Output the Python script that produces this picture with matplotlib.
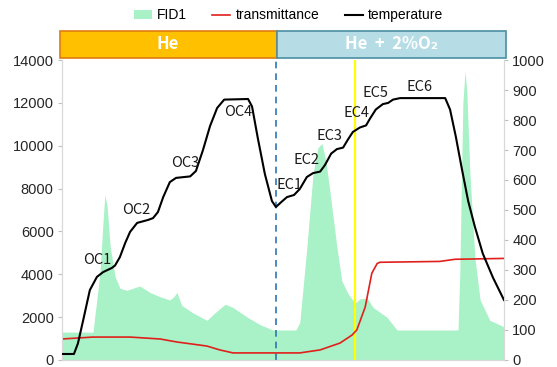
import matplotlib
matplotlib.use('Agg')
import matplotlib.pyplot as plt
from matplotlib.patches import Rectangle
from matplotlib.lines import Line2D
from matplotlib.patches import Patch

# eje x arbitrario (0-100)
fid_x = [0, 7.0, 7.7, 8.6, 9.3, 9.7, 10.2, 10.9, 12.0, 13.1, 14.7, 16.1, 17.6, 18.8, 19.9,
         22.2, 24.4, 25.3, 26.0, 27.1, 29.6, 32.8, 34.6, 36.9, 38.7, 41.9, 44.8, 47.7,
         52.9, 53.8, 55.4, 56.8, 57.9, 58.8, 59.7, 60.6, 62.2, 63.3, 64.7, 66.3, 67.4,
         69.0, 70.4, 73.5, 75.8, 89.6, 90.0, 90.7, 91.2, 91.6, 92.3, 93.4, 94.6, 96.8, 100]
fid_y = [1300, 1300, 2500, 4100, 6500, 7700, 7200, 5300, 3900, 3350, 3250, 3350, 3450, 3300, 3150,
         2950, 2800, 2950, 3150, 2550, 2200, 1850, 2200, 2600, 2450, 2000, 1650, 1400,
         1400, 1750, 5250, 8700, 9900, 10100, 9300, 7900, 5250, 3700, 3100, 2650, 2850,
         2900, 2450, 2000, 1400, 1400, 4000, 12000, 13500, 12500, 8700, 4800, 2800, 1850, 1550]

trans_x = [0, 7.0, 15.4, 22.2, 26.0, 29.6, 32.8, 35.7, 38.7, 44.8, 53.8, 58.4, 62.9, 65.6,
           66.7, 68.6, 70.1, 71.3, 71.9, 85.5, 88.9, 100]
trans_y = [980, 1070, 1070, 980, 840, 740, 650, 470, 330, 330, 330, 470, 790, 1160,
           1400, 2470, 4050, 4500, 4560, 4600, 4700, 4740]

temp_x = [0, 2.7, 3.6, 4.8, 6.3, 7.9, 9.3, 11.3, 12.0, 13.1, 14.3, 15.4, 17.0, 19.5, 20.6,
          21.7, 22.9, 24.4, 25.8, 29.0, 30.3, 31.9, 33.5, 35.1, 36.7, 42.1, 43.0, 44.3,
          45.9, 47.5, 48.4, 49.5, 50.9, 52.5, 53.8, 55.4, 56.8, 58.4, 59.5, 60.9, 62.2,
          63.6, 64.7, 65.8, 67.4, 68.8, 69.7, 71.0, 72.6, 73.8, 74.9, 76.5, 86.7, 87.8,
          89.1, 90.5, 91.9, 93.4, 95.2, 97.5, 100]
temp_y = [20, 20, 55, 133, 233, 277, 293, 307, 315, 343, 390, 427, 457, 467, 473,
          493, 543, 593, 607, 612, 630, 700, 780, 840, 868, 870, 845, 740,
          620, 530, 510, 525, 543, 550, 570, 610, 623, 628, 650, 688, 703,
          708, 735, 760, 775, 782, 805, 835, 853, 857, 868, 873, 873, 835,
          745, 635, 530, 445, 355, 275, 200]

# etiquetas de etapas (x, temperatura)
etapas = ['OC1', 'OC2', 'OC3', 'OC4', 'EC1', 'EC2', 'EC3', 'EC4', 'EC5', 'EC6']
etapas_x = [7.9, 16.7, 27.8, 39.8, 51.4, 55.4, 60.6, 66.7, 71.0, 81.0]
etapas_t = [333, 500, 657, 827, 583, 667, 747, 823, 890, 910]

cambio_gas = 48.4
marca_amarilla = 66.3

plt.rcParams['font.family'] = ['Liberation Sans', 'DejaVu Sans']

fig = plt.figure(figsize=(5.57, 3.67), dpi=100)
ax = fig.add_axes([0.1113, 0.0191, 0.7935, 0.8174])
ax2 = ax.twinx()

ax.fill_between(fid_x, fid_y, 0, color='#a9f1c6', lw=0, zorder=1)
ax.plot(trans_x, trans_y, color='#e0201c', lw=1.2, zorder=3)
ax2.plot(temp_x, temp_y, color='black', lw=1.5, zorder=4)

ax.axvline(cambio_gas, color='#2e75b6', ls=(0, (4, 3)), lw=1.2, zorder=2)
ax.axvline(marca_amarilla, color='#ffff00', lw=1.6, zorder=2)

for nombre, x, t in zip(etapas, etapas_x, etapas_t):
    ax2.text(x, t, nombre, ha='center', va='center', fontsize=10.5,
             family=['Noto Sans CJK KR', 'DejaVu Sans'], color='#1a1a1a', zorder=5)

ax.set_xlim(0, 100)
ax.set_ylim(0, 14000)
ax2.set_ylim(0, 1000)
ax.set_yticks(range(0, 14001, 2000))
ax2.set_yticks(range(0, 1001, 100))
ax.set_xticks([])

for a in (ax, ax2):
    for s in a.spines.values():
        s.set_color('#d9d9d9')
    a.spines['top'].set_visible(False)
    a.tick_params(axis='y', length=3, color='#bfbfbf', labelsize=10.5, labelcolor='#262626', pad=3)

# cajas de encabezado
ax.add_patch(Rectangle((-0.005, 1.007), 0.491, 0.09, transform=ax.transAxes, clip_on=False,
                       facecolor='#ffc000', edgecolor='#e07b10', lw=1.2))
ax.add_patch(Rectangle((0.486, 1.007), 0.519, 0.09, transform=ax.transAxes, clip_on=False,
                       facecolor='#b6dde6', edgecolor='#4a8fa3', lw=1.2))
ax.text(0.24, 1.052, 'He', transform=ax.transAxes, ha='center', va='center', color='white',
        fontsize=12, fontweight='bold', family=['Noto Sans CJK KR', 'DejaVu Sans'])
ax.text(0.745, 1.052, 'He  +  2%O₂', transform=ax.transAxes, ha='center', va='center', color='white',
        fontsize=12, fontweight='bold', family=['Noto Sans CJK KR', 'DejaVu Sans'])

handles = [Patch(facecolor='#a9f1c6', edgecolor='none'),
           Line2D([], [], color='#e0201c', lw=1.2),
           Line2D([], [], color='black', lw=1.5)]
fig.legend(handles, ['FID1', 'transmittance', 'temperature'], loc='center',
           bbox_to_anchor=(0.518, 0.958), ncol=3, frameon=False, fontsize=10,
           handlelength=1.3, handletextpad=0.4, columnspacing=1.8)

fig.savefig('out.png', dpi=100)
